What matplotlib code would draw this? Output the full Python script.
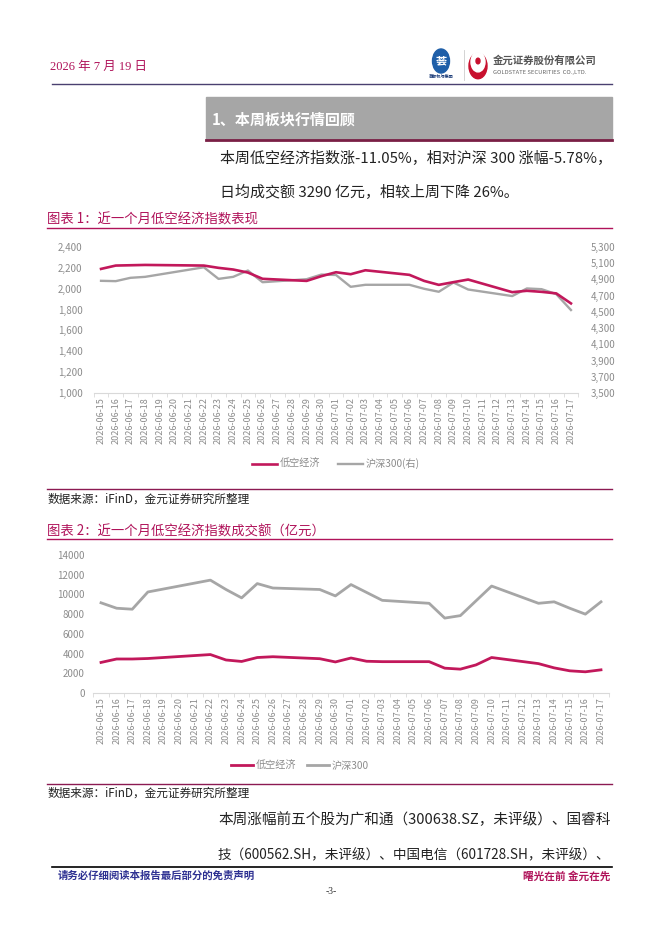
import matplotlib
matplotlib.use("Agg")
import matplotlib.pyplot as plt
import pandas as pd
from matplotlib.patches import Rectangle, Circle
from matplotlib.lines import Line2D

plt.rcParams['font.family'] = ['Noto Sans CJK SC', 'DejaVu Sans']

# ---- data ----
start_date = "2026-06-15"
end_date = "2026-07-17"
trade_dates = [
    "2026-06-15", "2026-06-16", "2026-06-17", "2026-06-18",
    "2026-06-22", "2026-06-23", "2026-06-24", "2026-06-25", "2026-06-26",
    "2026-06-29", "2026-06-30", "2026-07-01", "2026-07-02", "2026-07-03",
    "2026-07-06", "2026-07-07", "2026-07-08", "2026-07-09", "2026-07-10",
    "2026-07-13", "2026-07-14", "2026-07-15", "2026-07-16", "2026-07-17",
]
low_alt_index = [2190, 2222, 2225, 2228, 2222, 2200, 2184, 2155, 2095,
                 2075, 2120, 2158, 2139, 2177, 2133, 2075, 2037, 2063, 2088,
                 1967, 1980, 1970, 1955, 1859]
hs300_index = [4883, 4879, 4920, 4932, 5050, 4907, 4932, 5010, 4866,
               4903, 4960, 4955, 4809, 4834, 4834, 4785, 4748, 4862, 4776,
               4695, 4789, 4780, 4719, 4523]
low_alt_amount = [3100, 3450, 3450, 3500, 3900, 3350, 3200, 3600, 3680,
                  3480, 3150, 3550, 3220, 3180, 3180, 2520, 2420, 2850, 3600,
                  2980, 2550, 2250, 2150, 2350]
hs300_amount = [9150, 8600, 8500, 10250, 11450, 10500, 9650, 11100, 10650,
                10500, 9850, 11000, 10200, 9400, 9100, 7600, 7850, 9350, 10850,
                9100, 9250, 8600, 8000, 9250]

left_ticks_1 = [1000, 1200, 1400, 1600, 1800, 2000, 2200, 2400]
right_ticks_1 = [3500, 3700, 3900, 4100, 4300, 4500, 4700, 4900, 5100, 5300]
ticks_2 = [0, 2000, 4000, 6000, 8000, 10000, 12000, 14000]

all_days = pd.date_range(start_date, end_date, freq="D")
day_labels = [d.strftime("%Y-%m-%d") for d in all_days]
xpos = [(pd.Timestamp(d) - all_days[0]).days for d in trade_dates]

# ---- styling ----
W, H = 662, 936
PINK = "#C2185B"
GREY = "#A6A6A6"
TICK = "#8C8C8C"
MAGENTA = "#B0135A"
DARKMAG = "#8C1A52"
BODY = "#222222"


def rect(l, t, r, b):
    return [l / W, 1 - b / H, (r - l) / W, (b - t) / H]


def ftext(x, y, s, **kw):
    kw.setdefault("va", "center")
    return fig.text(x / W, 1 - y / H, s, **kw)


def fit_text(x, y, s, right, **kw):
    # body paragraphs in the report are justified to the right margin
    t = ftext(x, y, s, **kw)
    r = fig.canvas.get_renderer()
    w = t.get_window_extent(renderer=r).width
    t.set_fontsize(t.get_fontsize() * (right - x) / w)
    return t


def hline(x0, x1, y, color, lw):
    fig.add_artist(Line2D([x0 / W, x1 / W], [1 - y / H, 1 - y / H],
                          color=color, lw=lw, transform=fig.transFigure))


def style_axes(ax, n):
    for side in ("top", "left", "right"):
        ax.spines[side].set_visible(False)
    ax.spines["bottom"].set_color("#D9D9D9")
    ax.set_xlim(-0.5, n - 0.5)
    ax.set_xticks(range(n))
    ax.set_xticklabels(day_labels, rotation=90, fontsize=6.5, color=TICK)
    ax.set_xticks([i - 0.5 for i in range(n + 1)], minor=True)
    ax.tick_params(axis="x", which="major", length=0, pad=3)
    ax.tick_params(axis="x", which="minor", length=3, color="#D9D9D9")
    ax.tick_params(axis="y", length=0, labelsize=7, labelcolor=TICK)
    ax.patch.set_alpha(0)


fig = plt.figure(figsize=(W / 100, H / 100), dpi=100)

# ---- page header ----
ftext(50, 67, "2026 年 7 月 19 日", fontsize=9, color=MAGENTA,
      family=["Liberation Serif", "Noto Sans CJK SC"])
fig.add_artist(Circle((441 / W, 1 - 61 / H), 8.5 / W, color="#1F5FA8",
                      transform=fig.transFigure))
ftext(441, 61, "荟", fontsize=8, color="white", ha="center", weight="bold")
ftext(441, 76, "首都机场集团", fontsize=3, color="#1F3F7A", ha="center",
      weight="bold")
fig.add_artist(Line2D([464 / W, 464 / W], [1 - 50 / H, 1 - 80 / H],
                      color="#CCCCCC", lw=0.6, transform=fig.transFigure))
fig.add_artist(Circle((478 / W, 1 - 66 / H), 9 / W, color="#C8102E",
                      transform=fig.transFigure))
fig.add_artist(Circle((478 / W, 1 - 62 / H), 7 / W, color="white",
                      transform=fig.transFigure))
fig.add_artist(Circle((478 / W, 1 - 61 / H), 2 / W, color="#C8102E",
                      transform=fig.transFigure))
ftext(493, 61, "金元证券股份有限公司", fontsize=7.5, color="#555555",
      weight="bold")
ftext(493, 72, "GOLDSTATE SECURITIES  CO.,LTD.", fontsize=4.2,
      color="#666666")
hline(52, 612, 84, "#4A4070", 1.0)

# ---- section heading ----
fig.add_artist(Rectangle((206 / W, 1 - 139 / H), (612 - 206) / W, 42 / H,
                         color="#A6A6A6", transform=fig.transFigure))
hline(206, 612, 139.5, "#7A1F45", 2.0)
ftext(212, 119, "1、本周板块行情回顾", fontsize=10.8, color="white",
      weight="bold")

t1 = fit_text(220, 158, "本周低空经济指数涨-11.05%，相对沪深 300 涨幅-5.78%，",
              612, fontsize=10.5, color=BODY)
ftext(220, 192, "日均成交额 3290 亿元，相较上周下降 26%。",
      fontsize=t1.get_fontsize(), color=BODY)

# ---- chart 1 ----
ftext(47, 220, "图表 1：近一个月低空经济指数表现", fontsize=9.6, color=MAGENTA)
hline(47, 612, 228, MAGENTA, 1.0)

n = len(day_labels)
ax1 = fig.add_axes(rect(93.7, 247, 578.3, 393))
style_axes(ax1, n)
ax1.plot(xpos, low_alt_index, color=PINK, lw=1.9, label="低空经济",
         solid_joinstyle="round")
ax1.set_ylim(1000, 2400)
ax1.set_yticks(left_ticks_1)
ax1.set_yticklabels([f"{v:,}" for v in left_ticks_1])
ax1.tick_params(axis="y", pad=8)

ax1r = ax1.twinx()
ax1r.plot(xpos, hs300_index, color=GREY, lw=1.7, label="沪深300(右)",
          solid_joinstyle="round")
ax1r.set_ylim(3500, 5300)
ax1r.set_yticks(right_ticks_1)
ax1r.set_yticklabels([f"{v:,}" for v in right_ticks_1])
for side in ("top", "left", "right", "bottom"):
    ax1r.spines[side].set_visible(False)
ax1r.tick_params(axis="y", length=0, labelsize=7, labelcolor=TICK, pad=9)
ax1.set_zorder(ax1r.get_zorder() + 1)

h1 = [ax1.get_lines()[0], ax1r.get_lines()[0]]
fig.legend(h1, [h.get_label() for h in h1], loc="center",
           bbox_to_anchor=(336 / W, 1 - 464 / H), ncol=2, frameon=False,
           fontsize=7.3, labelcolor=TICK, handlelength=2.4, columnspacing=1.8,
           handletextpad=0.3)

hline(47, 612, 489, DARKMAG, 1.0)
ftext(47, 499, "数据来源：iFinD，金元证券研究所整理", fontsize=8.4, color=BODY)

# ---- chart 2 ----
ftext(47, 532, "图表 2：近一个月低空经济指数成交额（亿元）", fontsize=9.6,
      color=MAGENTA)
hline(47, 612, 539, MAGENTA, 1.0)

ax2 = fig.add_axes(rect(93.2, 555, 608.8, 693))
style_axes(ax2, n)
ax2.plot(xpos, low_alt_amount, color=PINK, lw=2.0, label="低空经济",
         solid_joinstyle="round")
ax2.plot(xpos, hs300_amount, color=GREY, lw=2.0, label="沪深300",
         solid_joinstyle="round")
ax2.set_ylim(0, 14000)
ax2.set_yticks(ticks_2)
ax2.set_yticklabels([str(v) for v in ticks_2])
ax2.tick_params(axis="y", pad=6)
fig.legend(ax2.get_lines(), [h.get_label() for h in ax2.get_lines()],
           loc="center", bbox_to_anchor=(300 / W, 1 - 766 / H), ncol=2,
           frameon=False, fontsize=7.3, labelcolor=TICK, handlelength=2.2,
           columnspacing=1.0, handletextpad=0.3)

hline(47, 612, 784, DARKMAG, 1.0)
ftext(47, 793, "数据来源：iFinD，金元证券研究所整理", fontsize=8.4, color=BODY)

# ---- body & footer ----
fit_text(218, 820, "本周涨幅前五个股为广和通（300638.SZ，未评级）、国睿科",
         612, fontsize=10.5, color=BODY)
fit_text(218, 855, "技（600562.SH，未评级）、中国电信（601728.SH，未评级）、",
         612, fontsize=10.5, color=BODY)
hline(52, 612, 867, "#000000", 1.2)
ftext(58, 876, "请务必仔细阅读本报告最后部分的免责声明", fontsize=7.5,
      color="#2E3192", weight="bold")
ftext(610, 876, "曙光在前 金元在先", fontsize=7.7, color=MAGENTA,
      weight="bold", ha="right")
ftext(331, 892, "-3-", fontsize=7, color="#333333", ha="center",
      family=["Liberation Serif"])

fig.savefig("out.png", dpi=100)
